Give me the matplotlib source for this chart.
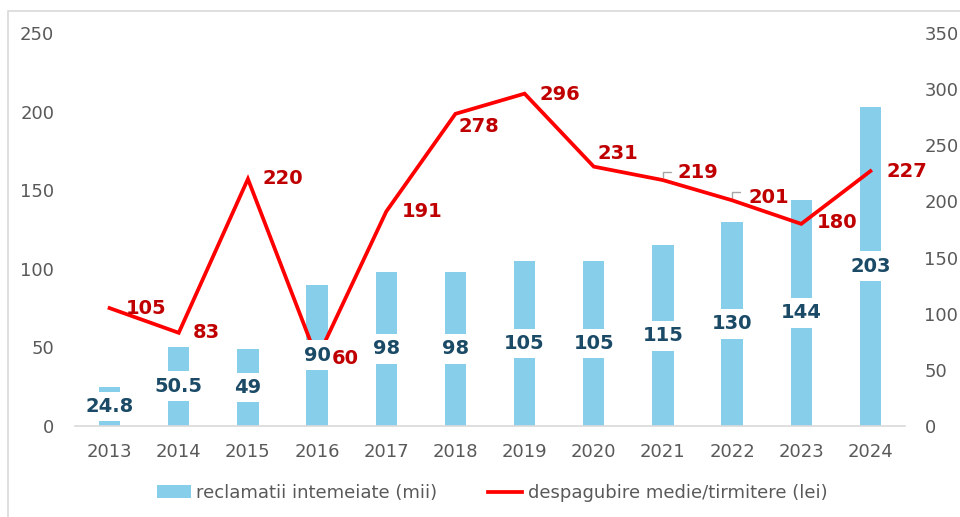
import matplotlib
matplotlib.use("Agg")
import matplotlib.pyplot as plt
from matplotlib.patches import Rectangle
from matplotlib.lines import Line2D
from matplotlib.patches import Patch

plt.rcParams['font.family'] = ['DejaVu Sans']

years = ['2013', '2014', '2015', '2016', '2017', '2018', '2019', '2020', '2021', '2022', '2023', '2024']
claims = [24.8, 50.5, 49, 90, 98, 98, 105, 105, 115, 130, 144, 203]
claim_labels = ['24.8', '50.5', '49', '90', '98', '98', '105', '105', '115', '130', '144', '203']
payout = [105, 83, 220, 60, 191, 278, 296, 231, 219, 201, 180, 227]
left_ticks = [0, 50, 100, 150, 200, 250]
right_ticks = [0, 50, 100, 150, 200, 250, 300, 350]
bar_name = 'reclamatii intemeiate (mii)'
line_name = 'despagubire medie/tirmitere (lei)'

BAR_C = '#87CEEB'
BAR_LBL = '#1A4A66'
LINE_C = '#FF0000'
LINE_LBL = '#C00000'
TICK_C = '#595959'

# label offsets in pixels (dx, dy up)
line_offsets = [(16, 0), (14, 0), (15, 0), (15, 0), (16, 0), (3, -13),
                (15, -1), (4, 13), (15, 8), (16, 3), (16, 1), (16, 0)]
leader = [False] * 8 + [True, True] + [False, False]

fig = plt.figure(figsize=(9.6, 5.17), dpi=100)
ax = fig.add_axes([75/960, 1-426/517, 830/960, 393/517])
ax2 = ax.twinx()

x = list(range(len(years)))
ax.bar(x, claims, width=0.31, color=BAR_C, zorder=1)
ax.set_ylim(0, 250)
ax.set_xlim(-0.5, len(years) - 0.5)
ax.set_yticks(left_ticks)
ax.set_xticks(x)
ax.set_xticklabels(years)

ax2.set_ylim(0, 350)
ax2.set_yticks(right_ticks)
ax2.plot(x, payout, color=LINE_C, lw=2.7, zorder=2, solid_joinstyle='miter')

for a in (ax, ax2):
    for s in a.spines.values():
        s.set_visible(False)
ax.spines['bottom'].set_visible(True)
ax.spines['bottom'].set_color('#D9D9D9')
ax.spines['bottom'].set_linewidth(1.2)

ax.tick_params(axis='y', length=0, pad=15, labelsize=13, labelcolor=TICK_C)
ax.tick_params(axis='x', length=0, pad=12, labelsize=13, labelcolor=TICK_C)
ax2.tick_params(axis='y', length=0, pad=14, labelsize=13, labelcolor=TICK_C)

ax2.set_zorder(ax.get_zorder() + 1)
ax2.patch.set_visible(False)

# bar labels (on top of line) - draw on ax2 using data transform of ax
for i, (v, lbl) in enumerate(zip(claims, claim_labels)):
    ax2.text(i, v / 2, lbl, transform=ax.transData, ha='center', va='center',
             fontsize=14, fontweight='bold', color=BAR_LBL, zorder=5,
             bbox=dict(boxstyle='square,pad=0.28', fc='white', ec='none'))

for i, v in enumerate(payout):
    dx, dy = line_offsets[i]
    ax2.annotate(str(v), xy=(i, v), xytext=(dx * 0.72, dy * 0.72),
                 textcoords='offset points', ha='left', va='center',
                 fontsize=14, fontweight='bold', color=LINE_LBL, zorder=6)
    if leader[i]:
        ax2.annotate('', xy=(i, v), xytext=(8 * 0.72, 8 * 0.72),
                     textcoords='offset points',
                     arrowprops=dict(arrowstyle='-', color='#A6A6A6', lw=1,
                                     shrinkA=0, shrinkB=2,
                                     connectionstyle='angle,angleA=0,angleB=90,rad=0'),
                     zorder=1)

handles = [Patch(facecolor=BAR_C, edgecolor='none'),
           Line2D([0], [0], color=LINE_C, lw=2.7)]
fig.legend(handles, [bar_name, line_name], loc='center', ncol=2,
           bbox_to_anchor=(492/960, 1 - 493/517), frameon=False,
           fontsize=13, labelcolor=TICK_C, handlelength=1.9,
           handleheight=0.7, handletextpad=0.3, columnspacing=2.8)

fig.add_artist(Rectangle((8/960, -0.2), 1.2, 1.2 - 11/517, transform=fig.transFigure,
                         fill=False, edgecolor='#D9D9D9', lw=1.2))

fig.savefig('out.png', dpi=100)
